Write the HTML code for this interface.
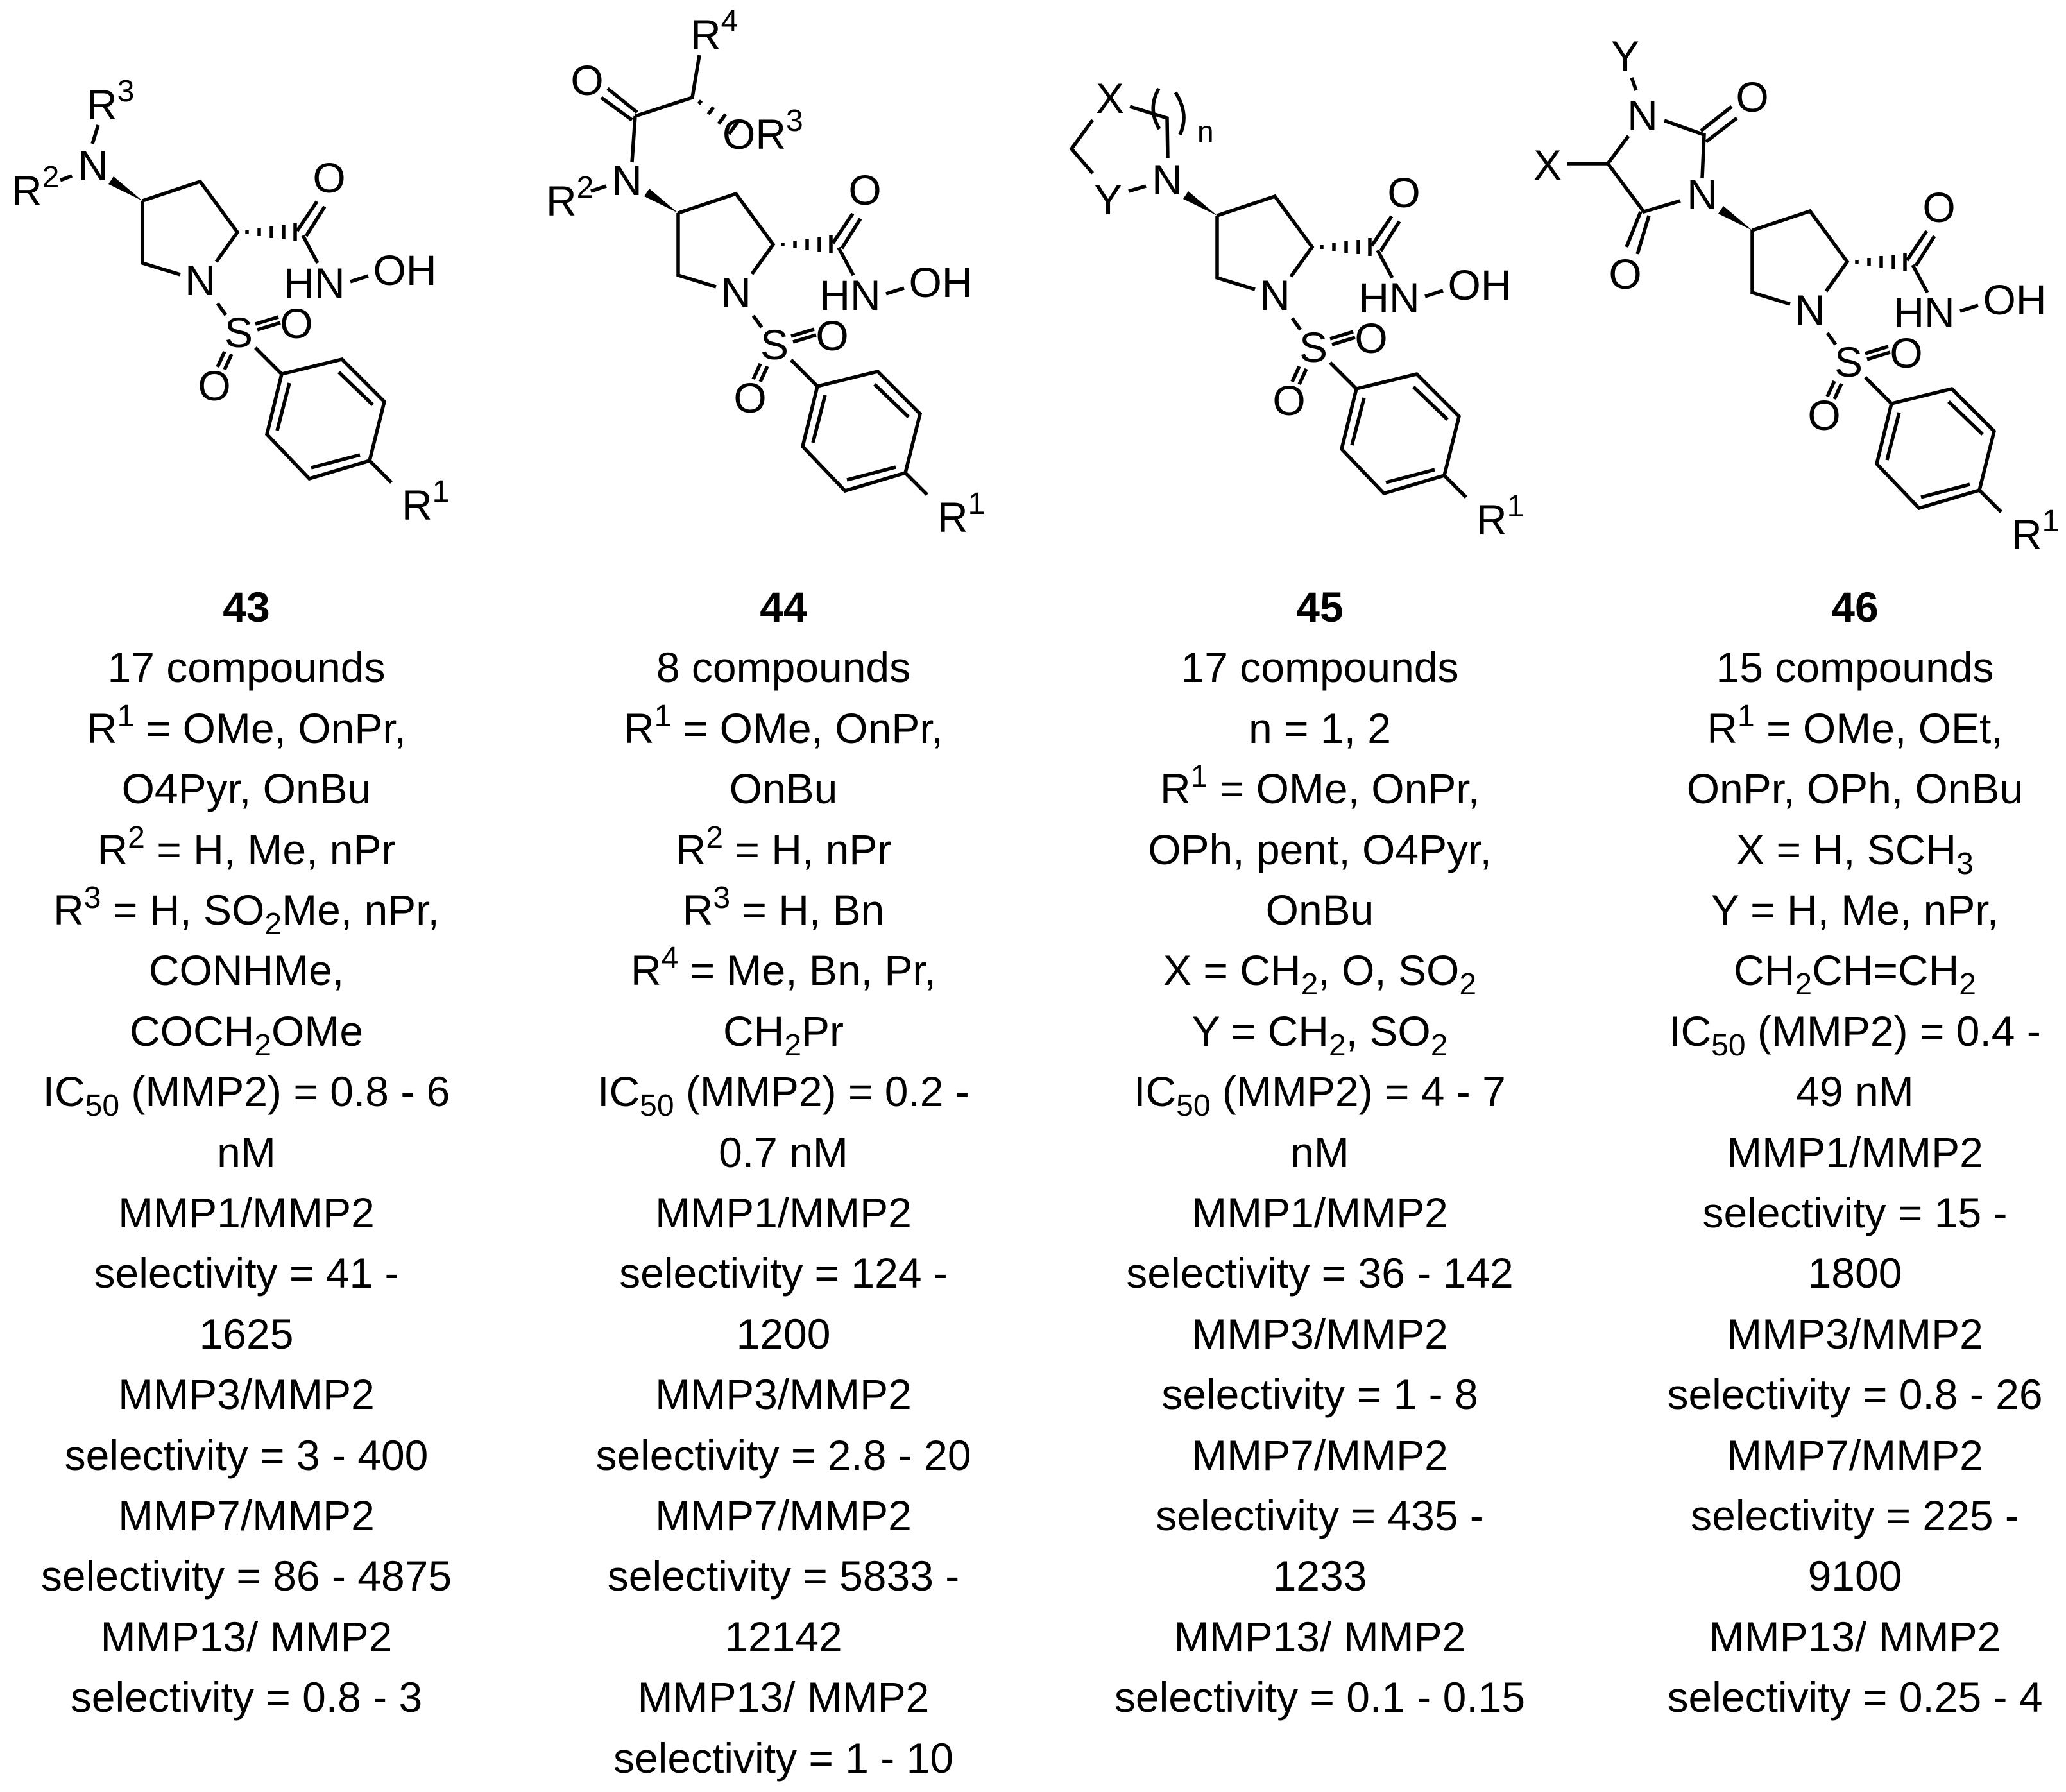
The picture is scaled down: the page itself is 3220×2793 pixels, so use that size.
<!DOCTYPE html>
<html><head><meta charset="utf-8"><style>
html,body{margin:0;padding:0;background:#fff;}
svg{display:block;}
text{font-family:"Liberation Sans",Arial,sans-serif;fill:#000;}
.b{stroke:#000;stroke-width:5.5;fill:none;stroke-linecap:butt;}
.c{font-size:66px;}
.t{font-size:66px;text-anchor:middle;}
</style></head><body>
<svg width="3220" height="2793" viewBox="0 0 3220 2793" xmlns="http://www.w3.org/2000/svg">
<rect width="3220" height="2793" fill="#fff"/>

<!-- ========== 43 ========== -->
<g>
<path class="b" d="M222,313 L312,283 L370,362 L337,408 M222,313 L222,410 L281,428 M472,367 L495,410 M546,439 L574,430 M339,473 L352,491 M398,542 L439,583 M439,583 L533,560 L599,626 L576,718 L482,746 L416,677 Z M451,597 L432,671 M528,580 L581,631 M485,729 L561,709 M576,718 L610,752 M463,360 L494,314 M477,368 L506,322 M398,505 L434,494 M401,514 L437,503 M350,548 L339,572 M361,552 L350,576 M385,359 L385,365 M404,356 L404,368 M423,353 L423,371 M442,351 L442,373 M460,348 L460,376"/>
<polygon points="222,313 177,275 169,287" fill="#000"/>
<text class="c" x="312" y="460" text-anchor="middle">N</text>
<text class="c" x="490" y="464" text-anchor="middle">HN</text>
<text class="c" x="631" y="444" text-anchor="middle">OH</text>
<text class="c" x="372" y="541" text-anchor="middle">S</text>
<text class="c" x="462" y="527" text-anchor="middle">O</text>
<text class="c" x="334" y="624" text-anchor="middle">O</text>
<text class="c" x="513" y="300" text-anchor="middle">O</text>
<text class="c" x="626" y="810">R<tspan font-size="48" dy="-28">1</tspan></text>
</g>
<path class="b" d="M94,281 L112,274 M153,195 L144,224"/>
<text class="c" x="145" y="281" text-anchor="middle">N</text>
<text class="c" x="18" y="320">R<tspan font-size="48" dy="-28">2</tspan></text>
<text class="c" x="135" y="186">R<tspan font-size="48" dy="-28">3</tspan></text>

<!-- ========== 44 ========== -->
<g transform="translate(835,19)">
<path class="b" d="M222,313 L312,283 L370,362 L337,408 M222,313 L222,410 L281,428 M472,367 L495,410 M546,439 L574,430 M339,473 L352,491 M398,542 L439,583 M439,583 L533,560 L599,626 L576,718 L482,746 L416,677 Z M451,597 L432,671 M528,580 L581,631 M485,729 L561,709 M576,718 L610,752 M463,360 L494,314 M477,368 L506,322 M398,505 L434,494 M401,514 L437,503 M350,548 L339,572 M361,552 L350,576 M385,359 L385,365 M404,356 L404,368 M423,353 L423,371 M442,351 L442,373 M460,348 L460,376"/>
<polygon points="222,313 177,275 169,287" fill="#000"/>
<text class="c" x="312" y="460" text-anchor="middle">N</text>
<text class="c" x="490" y="464" text-anchor="middle">HN</text>
<text class="c" x="631" y="444" text-anchor="middle">OH</text>
<text class="c" x="372" y="541" text-anchor="middle">S</text>
<text class="c" x="462" y="527" text-anchor="middle">O</text>
<text class="c" x="334" y="624" text-anchor="middle">O</text>
<text class="c" x="513" y="300" text-anchor="middle">O</text>
<text class="c" x="626" y="810">R<tspan font-size="48" dy="-28">1</tspan></text>
</g>
<path class="b" d="M921,298 L945,290 M985,253 L990,181 M937,152 L985,187 M947,138 L993,175 M990,181 L1079,152 L1090,86 M1089,162 L1093,157 M1104,178 L1112,167 M1120,193 L1131,178 M1136,209 L1150,190"/>
<text class="c" x="977" y="304" text-anchor="middle">N</text>
<text class="c" x="851" y="336">R<tspan font-size="48" dy="-28">2</tspan></text>
<text class="c" x="915" y="148" text-anchor="middle">O</text>
<text class="c" x="1076" y="77">R<tspan font-size="48" dy="-28">4</tspan></text>
<text class="c" x="1126" y="232">OR<tspan font-size="48" dy="-28">3</tspan></text>

<!-- ========== 45 ========== -->
<g transform="translate(1675,23)">
<path class="b" d="M222,313 L312,283 L370,362 L337,408 M222,313 L222,410 L281,428 M472,367 L495,410 M546,439 L574,430 M339,473 L352,491 M398,542 L439,583 M439,583 L533,560 L599,626 L576,718 L482,746 L416,677 Z M451,597 L432,671 M528,580 L581,631 M485,729 L561,709 M576,718 L610,752 M463,360 L494,314 M477,368 L506,322 M398,505 L434,494 M401,514 L437,503 M350,548 L339,572 M361,552 L350,576 M385,359 L385,365 M404,356 L404,368 M423,353 L423,371 M442,351 L442,373 M460,348 L460,376"/>
<polygon points="222,313 177,275 169,287" fill="#000"/>
<text class="c" x="312" y="460" text-anchor="middle">N</text>
<text class="c" x="490" y="464" text-anchor="middle">HN</text>
<text class="c" x="631" y="444" text-anchor="middle">OH</text>
<text class="c" x="372" y="541" text-anchor="middle">S</text>
<text class="c" x="462" y="527" text-anchor="middle">O</text>
<text class="c" x="334" y="624" text-anchor="middle">O</text>
<text class="c" x="513" y="300" text-anchor="middle">O</text>
<text class="c" x="626" y="810">R<tspan font-size="48" dy="-28">1</tspan></text>
</g>
<path class="b" d="M1759,298 L1786,290 M1703,270 L1670,232 L1703,187 M1761,166 L1819,184 L1820,247 M1806,138 Q1788,170 1807,201 M1832,144 Q1854,178 1839,210"/>
<text class="c" x="1819" y="303" text-anchor="middle">N</text>
<text class="c" x="1727" y="334" text-anchor="middle">Y</text>
<text class="c" x="1730" y="176" text-anchor="middle">X</text>
<text x="1866" y="221" font-size="46">n</text>

<!-- ========== 46 ========== -->
<g transform="translate(2509,46)">
<path class="b" d="M222,313 L312,283 L370,362 L337,408 M222,313 L222,410 L281,428 M472,367 L495,410 M546,439 L574,430 M339,473 L352,491 M398,542 L439,583 M439,583 L533,560 L599,626 L576,718 L482,746 L416,677 Z M451,597 L432,671 M528,580 L581,631 M485,729 L561,709 M576,718 L610,752 M463,360 L494,314 M477,368 L506,322 M398,505 L434,494 M401,514 L437,503 M350,548 L339,572 M361,552 L350,576 M385,359 L385,365 M404,356 L404,368 M423,353 L423,371 M442,351 L442,373 M460,348 L460,376"/>
<polygon points="222,313 177,275 169,287" fill="#000"/>
<text class="c" x="312" y="460" text-anchor="middle">N</text>
<text class="c" x="490" y="464" text-anchor="middle">HN</text>
<text class="c" x="631" y="444" text-anchor="middle">OH</text>
<text class="c" x="372" y="541" text-anchor="middle">S</text>
<text class="c" x="462" y="527" text-anchor="middle">O</text>
<text class="c" x="334" y="624" text-anchor="middle">O</text>
<text class="c" x="513" y="300" text-anchor="middle">O</text>
<text class="c" x="626" y="810">R<tspan font-size="48" dy="-28">1</tspan></text>
</g>
<path class="b" d="M2653,278 L2656,210 L2594,188 M2538,212 L2506,255 L2562,330 L2619,313 M2651,204 L2699,166 M2659,221 L2707,184 M2557,330 L2535,385 M2570,336 L2552,396 M2442,255 L2506,255 M2543,121 L2550,141"/>
<text class="c" x="2653" y="326" text-anchor="middle">N</text>
<text class="c" x="2560" y="203" text-anchor="middle">N</text>
<text class="c" x="2731" y="174" text-anchor="middle">O</text>
<text class="c" x="2533" y="450" text-anchor="middle">O</text>
<text class="c" x="2412" y="280" text-anchor="middle">X</text>
<text class="c" x="2533" y="110" text-anchor="middle">Y</text>

<!-- ========== Text columns ========== -->
<g class="t">
<!-- 43 -->
<text x="384" y="969" font-weight="bold">43</text>
<text x="384" y="1063">17 compounds</text>
<text x="384" y="1158">R<tspan font-size="48" dy="-26">1</tspan><tspan dy="26"> = OMe, OnPr,</tspan></text>
<text x="384" y="1252">O4Pyr, OnBu</text>
<text x="384" y="1347">R<tspan font-size="48" dy="-26">2</tspan><tspan dy="26"> = H, Me, nPr</tspan></text>
<text x="384" y="1441">R<tspan font-size="48" dy="-26">3</tspan><tspan dy="26"> = H, SO</tspan><tspan font-size="48" dy="15">2</tspan><tspan dy="-15">Me, nPr,</tspan></text>
<text x="384" y="1535">CONHMe,</text>
<text x="384" y="1630">COCH<tspan font-size="48" dy="15">2</tspan><tspan dy="-15">OMe</tspan></text>
<text x="384" y="1724">IC<tspan font-size="48" dy="15">50</tspan><tspan dy="-15"> (MMP2) = 0.8 - 6</tspan></text>
<text x="384" y="1819">nM</text>
<text x="384" y="1913">MMP1/MMP2</text>
<text x="384" y="2007">selectivity = 41 -</text>
<text x="384" y="2102">1625</text>
<text x="384" y="2196">MMP3/MMP2</text>
<text x="384" y="2291">selectivity = 3 - 400</text>
<text x="384" y="2385">MMP7/MMP2</text>
<text x="384" y="2479">selectivity = 86 - 4875</text>
<text x="384" y="2574">MMP13/ MMP2</text>
<text x="384" y="2668">selectivity = 0.8 - 3</text>
<!-- 44 -->
<text x="1221" y="969" font-weight="bold">44</text>
<text x="1221" y="1063">8 compounds</text>
<text x="1221" y="1158">R<tspan font-size="48" dy="-26">1</tspan><tspan dy="26"> = OMe, OnPr,</tspan></text>
<text x="1221" y="1252">OnBu</text>
<text x="1221" y="1347">R<tspan font-size="48" dy="-26">2</tspan><tspan dy="26"> = H, nPr</tspan></text>
<text x="1221" y="1441">R<tspan font-size="48" dy="-26">3</tspan><tspan dy="26"> = H, Bn</tspan></text>
<text x="1221" y="1535">R<tspan font-size="48" dy="-26">4</tspan><tspan dy="26"> =  Me, Bn, Pr,</tspan></text>
<text x="1221" y="1630">CH<tspan font-size="48" dy="15">2</tspan><tspan dy="-15">Pr</tspan></text>
<text x="1221" y="1724">IC<tspan font-size="48" dy="15">50</tspan><tspan dy="-15"> (MMP2) = 0.2 -</tspan></text>
<text x="1221" y="1819">0.7 nM</text>
<text x="1221" y="1913">MMP1/MMP2</text>
<text x="1221" y="2007">selectivity = 124 -</text>
<text x="1221" y="2102">1200</text>
<text x="1221" y="2196">MMP3/MMP2</text>
<text x="1221" y="2291">selectivity = 2.8 - 20</text>
<text x="1221" y="2385">MMP7/MMP2</text>
<text x="1221" y="2479">selectivity = 5833 -</text>
<text x="1221" y="2574">12142</text>
<text x="1221" y="2668">MMP13/ MMP2</text>
<text x="1221" y="2763">selectivity = 1 - 10</text>
<!-- 45 -->
<text x="2057" y="969" font-weight="bold">45</text>
<text x="2057" y="1063">17 compounds</text>
<text x="2057" y="1158">n = 1, 2</text>
<text x="2057" y="1252">R<tspan font-size="48" dy="-26">1</tspan><tspan dy="26"> = OMe, OnPr,</tspan></text>
<text x="2057" y="1347">OPh, pent, O4Pyr,</text>
<text x="2057" y="1441">OnBu</text>
<text x="2057" y="1535">X = CH<tspan font-size="48" dy="15">2</tspan><tspan dy="-15">, O, SO</tspan><tspan font-size="48" dy="15">2</tspan></text>
<text x="2057" y="1630">Y = CH<tspan font-size="48" dy="15">2</tspan><tspan dy="-15">, SO</tspan><tspan font-size="48" dy="15">2</tspan></text>
<text x="2057" y="1724">IC<tspan font-size="48" dy="15">50</tspan><tspan dy="-15"> (MMP2) = 4 - 7</tspan></text>
<text x="2057" y="1819">nM</text>
<text x="2057" y="1913">MMP1/MMP2</text>
<text x="2057" y="2007">selectivity = 36 - 142</text>
<text x="2057" y="2102">MMP3/MMP2</text>
<text x="2057" y="2196">selectivity = 1 - 8</text>
<text x="2057" y="2291">MMP7/MMP2</text>
<text x="2057" y="2385">selectivity = 435 -</text>
<text x="2057" y="2479">1233</text>
<text x="2057" y="2574">MMP13/ MMP2</text>
<text x="2057" y="2668">selectivity = 0.1 - 0.15</text>
<!-- 46 -->
<text x="2891" y="969" font-weight="bold">46</text>
<text x="2891" y="1063">15 compounds</text>
<text x="2891" y="1158">R<tspan font-size="48" dy="-26">1</tspan><tspan dy="26"> = OMe, OEt,</tspan></text>
<text x="2891" y="1252">OnPr, OPh,  OnBu</text>
<text x="2891" y="1347">X = H, SCH<tspan font-size="48" dy="15">3</tspan></text>
<text x="2891" y="1441">Y = H, Me, nPr,</text>
<text x="2891" y="1535">CH<tspan font-size="48" dy="15">2</tspan><tspan dy="-15">CH=CH</tspan><tspan font-size="48" dy="15">2</tspan></text>
<text x="2891" y="1630">IC<tspan font-size="48" dy="15">50</tspan><tspan dy="-15"> (MMP2) = 0.4 -</tspan></text>
<text x="2891" y="1724">49 nM</text>
<text x="2891" y="1819">MMP1/MMP2</text>
<text x="2891" y="1913">selectivity = 15 -</text>
<text x="2891" y="2007">1800</text>
<text x="2891" y="2102">MMP3/MMP2</text>
<text x="2891" y="2196">selectivity = 0.8 - 26</text>
<text x="2891" y="2291">MMP7/MMP2</text>
<text x="2891" y="2385">selectivity = 225 -</text>
<text x="2891" y="2479">9100</text>
<text x="2891" y="2574">MMP13/ MMP2</text>
<text x="2891" y="2668">selectivity = 0.25 - 4</text>
</g>
</svg>
</body></html>
